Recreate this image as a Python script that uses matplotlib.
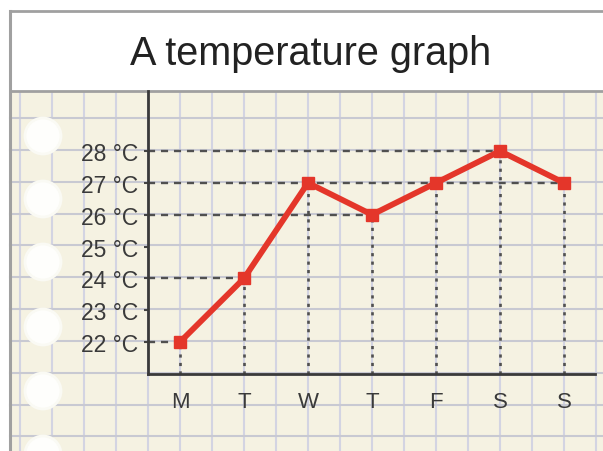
import numpy as np
import matplotlib
matplotlib.use("Agg")
import matplotlib.pyplot as plt
from matplotlib.patches import Rectangle, Circle

plt.rcParams['font.family'] = ['Liberation Sans', 'DejaVu Sans']

# Daten
days = ['M', 'T', 'W', 'T', 'F', 'S', 'S']
temps = [22, 24, 27, 26, 27, 28, 27]
y_ticks = [22, 23, 24, 25, 26, 27, 28]
title = 'A temperature graph'

W, H = 603, 452
fig = plt.figure(figsize=(W / 100, H / 100), dpi=100)

# Hintergrund: Papier, Gitter, Lochung (Pixelkoordinaten)
bg = fig.add_axes([0, 0, 1, 1])
bg.set_xlim(0, W)
bg.set_ylim(H, 0)
bg.axis('off')

paper = '#f5f2e2'
bg.add_patch(Rectangle((10, 92), W - 10, H - 92, facecolor=paper, edgecolor='none', zorder=0))
bg.add_patch(Rectangle((10, 12), W, 80, facecolor='white', edgecolor='#a0a0a0', lw=2, zorder=3))
bg.plot([10, 10], [12, H], color='#a0a0a0', lw=2.2, zorder=3)

for x in np.arange(20, W, 32):
    bg.plot([x, x], [92, H], color='#d3d4e2', lw=1.5, zorder=1)
for y in np.arange(375 - 32 * 8, H, 31.85):
    bg.plot([10, W], [y, y], color='#c8c9d2', lw=1.5, zorder=1)

for y in [137, 200, 263, 328, 392, 455]:
    bg.add_patch(Circle((43, y), 18, facecolor='#fefefc', edgecolor='#fafaf4', lw=2, zorder=2))

bg.text(311, 54, title, fontsize=28.5, color='#222222', ha='center', va='center', zorder=4)

# Diagramm
ax = fig.add_axes([148 / W, (H - 375) / H, (595 - 148) / W, (375 - 92) / H])
ax.patch.set_alpha(0)
x = np.arange(len(days))
ax.set_xlim(-0.5, 6.484)
ax.set_ylim(20.995, 29.886)

# Hilfslinien
for v in sorted(set(temps)):
    xm = max(i for i, t in enumerate(temps) if t == v)
    ax.plot([-0.5, xm], [v, v], color='#505050', lw=1.7, ls=(0, (3, 2.5)), zorder=2)
ax.vlines(x, 20.995, temps, color='#505050', lw=1.9, linestyles=(0, (1.2, 2)), zorder=2)

ax.plot(x, temps, color='#e4362a', lw=4.2, marker='s', markersize=9, zorder=3)

ax.set_xticks(x)
ax.set_xticklabels(days)
ax.set_yticks(y_ticks)
ax.set_yticklabels([f'{t} °C' for t in y_ticks])
ax.tick_params(axis='x', length=0, pad=12, labelsize=16, labelcolor='#3a3a3a')
ax.tick_params(axis='y', length=3, width=1.5, color='#444444', pad=4, labelsize=16.5, labelcolor='#3a3a3a')

for s in ['top', 'right']:
    ax.spines[s].set_visible(False)
for s in ['left', 'bottom']:
    ax.spines[s].set_color('#3a3a3a')
    ax.spines[s].set_linewidth(2)

plt.savefig('out.png', dpi=100)
plt.close()
